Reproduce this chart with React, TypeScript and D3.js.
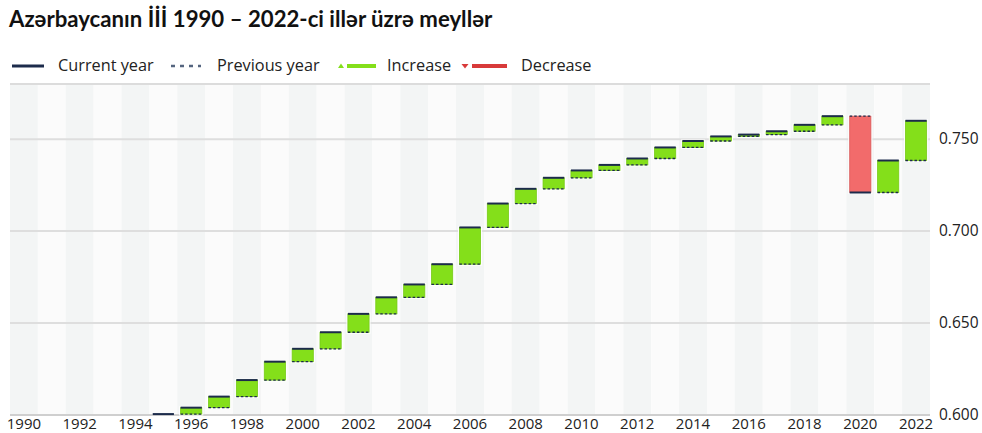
import React from "react";
import * as d3 from "d3";

const years: number[] = d3.range(1990, 2023);
const hdiValues: (number | null)[] = [
  null, null, null, null, null,
  0.6005, 0.604, 0.610, 0.619, 0.629,
  0.636, 0.645, 0.655, 0.664, 0.671,
  0.682, 0.702, 0.715, 0.723, 0.729,
  0.733, 0.736, 0.7395, 0.7455, 0.749,
  0.7515, 0.7525, 0.7543, 0.7578, 0.7625,
  0.721, 0.7384, 0.760,
];
const yTicks: number[] = [0.6, 0.65, 0.7, 0.75];
const xTickYears: number[] = years.filter((y) => y % 2 === 0);
const legendItems = ["Current year", "Previous year", "Increase", "Decrease"];

const W = 982;
const H = 433;
const left = 10;
const right = 930;
const top = 84;
const bottom = 415;

const NAVY = "#1c2b4b";
const GREEN = "#84df1a";
const RED = "#f26b6b";
const FONT = "'Open Sans', Lato, sans-serif";

export default function App() {
  const x = d3.scaleBand<number>().domain(years).range([left, right]).paddingInner(0).paddingOuter(0);
  const y = d3.scaleLinear().domain([0.6, 0.78]).range([bottom, top]);
  const bw = x.bandwidth() * 0.76;

  const bars = years.map((yr, i) => {
    const cur = hdiValues[i];
    if (cur == null) return null;
    const prev = i > 0 ? hdiValues[i - 1] : null;
    const cx = (x(yr) as number) + x.bandwidth() / 2;
    const x0 = cx - bw / 2;
    if (prev == null) {
      return (
        <line key={yr} x1={x0} x2={x0 + bw} y1={y(cur)} y2={y(cur)} stroke={NAVY} strokeWidth={2} />
      );
    }
    const inc = cur >= prev;
    const yTop = y(Math.max(cur, prev));
    const yBot = y(Math.min(cur, prev));
    return (
      <g key={yr}>
        <rect x={x0 - 1.5} y={yTop - 1.5} width={bw + 3} height={yBot - yTop + 3} fill="#ffffff" opacity={0.9} />
        <rect
          x={x0}
          y={yTop}
          width={bw}
          height={Math.max(1, yBot - yTop)}
          fill={inc ? GREEN : RED}
          stroke={inc ? "#76ca16" : "#d85a5a"}
          strokeWidth={0.8}
        />
        <line x1={x0} x2={x0 + bw} y1={y(prev)} y2={y(prev)} stroke={NAVY} strokeWidth={1.3} strokeDasharray="2.5,2" />
        <line x1={x0} x2={x0 + bw} y1={y(cur)} y2={y(cur)} stroke={NAVY} strokeWidth={2} />
      </g>
    );
  });

  return (
    <svg width={W} height={H} style={{ position: "absolute", left: 0, top: 0, background: "#fff" }} fontFamily={FONT}>
      <text x={9} y={27} fontSize={22.2} fontWeight={700} fill="#111" fontFamily="Lato, sans-serif">
        Azərbaycanın İİİ 1990 – 2022-ci illər üzrə meyllər
      </text>

      {/* legend */}
      <g fontSize={16.3} fill="#222">
        <line x1={12} x2={44} y1={66} y2={66} stroke={NAVY} strokeWidth={3} />
        <text x={58} y={71}>{legendItems[0]}</text>
        <line x1={171} x2={201} y1={66} y2={66} stroke="#55657f" strokeWidth={2.5} strokeDasharray="4,5" />
        <text x={217} y={71}>{legendItems[1]}</text>
        <path d="M338,68 L341,63.5 L344,68 Z" fill={GREEN} />
        <line x1={347} x2={376} y1={66} y2={66} stroke={GREEN} strokeWidth={4} />
        <text x={387} y={71}>{legendItems[2]}</text>
        <path d="M461.5,64 L465,68.5 L468.5,64 Z" fill="#d83a3a" />
        <line x1={472} x2={507} y1={66} y2={66} stroke="#d83a3a" strokeWidth={4} />
        <text x={521} y={71}>{legendItems[3]}</text>
      </g>

      {/* bands */}
      {years.map((yr, i) => (
        <rect
          key={"b" + yr}
          x={x(yr) as number}
          y={top}
          width={x.bandwidth()}
          height={bottom - top}
          fill={i % 2 === 0 ? "#f3f5f5" : "#fbfbfb"}
        />
      ))}

      {/* grid */}
      <line x1={left} x2={right} y1={top} y2={top} stroke="#dcdcdc" strokeWidth={2} />
      {yTicks.slice(1).map((t) => (
        <line key={"g" + t} x1={left} x2={right} y1={y(t)} y2={y(t)} stroke="#dedede" strokeWidth={2} />
      ))}
      <line x1={left} x2={right} y1={bottom} y2={bottom} stroke="#cfcfcf" strokeWidth={2} />

      {bars}

      {/* y labels */}
      <g fontSize={15.5} fill="#222">
        {yTicks.map((t) => (
          <text key={"y" + t} x={939} y={y(t) + 5}>
            {d3.format(".3f")(t)}
          </text>
        ))}
      </g>

      {/* x labels */}
      <g fontSize={15} fill="#222" textAnchor="middle">
        {xTickYears.map((yr) => (
          <text key={"x" + yr} x={(x(yr) as number) + x.bandwidth() / 2} y={429}>
            {yr}
          </text>
        ))}
      </g>
    </svg>
  );
}
